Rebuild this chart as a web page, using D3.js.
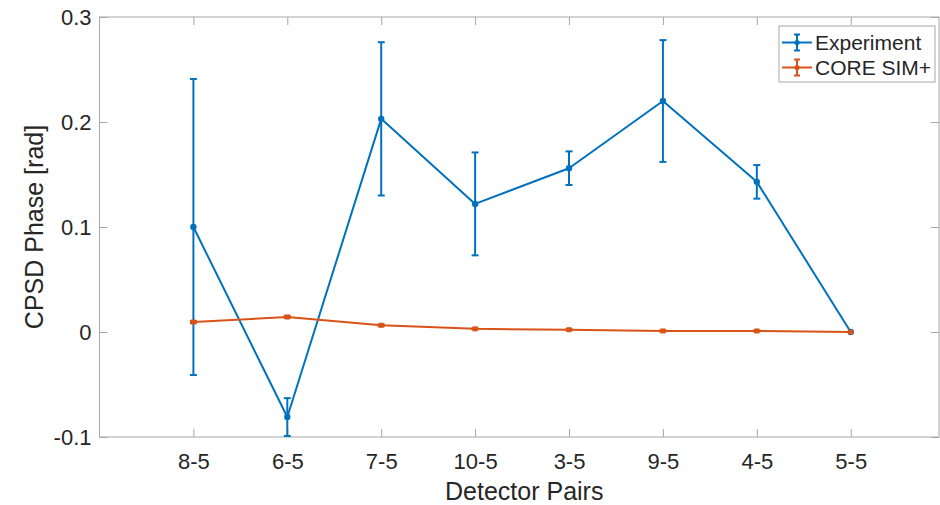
<!DOCTYPE html>
<html>
<head>
<meta charset="utf-8">
<script src="https://cdn.jsdelivr.net/npm/d3@7"></script>
<style>
  html, body { margin: 0; padding: 0; background: #fff; }
  svg { display: block; font-family: "Liberation Sans", Arial, Helvetica, sans-serif; }
</style>
</head>
<body>
<svg id="chart" width="940" height="505"></svg>
<script>
// Detector pairs along the x axis
const pairs = ["8-5", "6-5", "7-5", "10-5", "3-5", "9-5", "4-5", "5-5"];

// Measured CPSD phase and its uncertainty [rad]
const expPhase = [0.100, -0.081, 0.203, 0.122, 0.156, 0.220, 0.143, 0.000];
const expErr   = [0.141, 0.018, 0.073, 0.049, 0.016, 0.058, 0.016, 0.000];

// Simulated CPSD phase and its uncertainty [rad]
const simPhase = [0.0095, 0.0143, 0.0064, 0.0030, 0.0022, 0.0010, 0.0010, 0.0000];
const simErr   = [0.0010, 0.0010, 0.0008, 0.0006, 0.0006, 0.0006, 0.0006, 0.0000];

const yTicks = [-0.1, 0, 0.1, 0.2, 0.3];
const yTickLabels = ["-0.1", "0", "0.1", "0.2", "0.3"];

const seriesNames = ["Experiment", "CORE SIM+"];
const seriesColors = ["#0072BD", "#D95319"];

const W = 940, H = 505;
const plot = { left: 99.5, right: 939, top: 17, bottom: 437 };

const svg = d3.select("#chart");

const x = d3.scaleLinear().domain([0, 8.94]).range([plot.left, plot.right]);
const y = d3.scaleLinear().domain([-0.1, 0.3]).range([plot.bottom, plot.top]);
const xPos = i => x(i + 1);

const axisColor = "#a8a8a8";
const textColor = "#262626";
const tickFont = 22;
const labelFont = 25;

// Axes box
svg.append("rect")
  .attr("x", plot.left).attr("y", plot.top)
  .attr("width", plot.right - plot.left).attr("height", plot.bottom - plot.top)
  .attr("fill", "none").attr("stroke", axisColor).attr("stroke-width", 1);

// Bottom axis with inward ticks, mirrored on the top edge
const xAxis = d3.axisBottom(x)
  .tickValues(pairs.map((d, i) => i + 1))
  .tickFormat((d) => pairs[d - 1])
  .tickSizeInner(-8).tickSizeOuter(0).tickPadding(16);
const gx = svg.append("g").attr("transform", `translate(0,${plot.bottom})`).call(xAxis);
gx.select(".domain").remove();
gx.selectAll("line").attr("stroke", axisColor);
gx.selectAll("text").attr("fill", textColor).attr("font-size", tickFont).attr("font-family", null);

const xTop = d3.axisTop(x).tickValues(pairs.map((d, i) => i + 1)).tickFormat("").tickSizeInner(-8).tickSizeOuter(0);
const gxt = svg.append("g").attr("transform", `translate(0,${plot.top})`).call(xTop);
gxt.select(".domain").remove();
gxt.selectAll("line").attr("stroke", axisColor);

// Left axis with inward ticks, mirrored on the right edge
const yAxis = d3.axisLeft(y)
  .tickValues(yTicks)
  .tickFormat((d, i) => yTickLabels[i])
  .tickSizeInner(-8).tickSizeOuter(0).tickPadding(8);
const gy = svg.append("g").attr("transform", `translate(${plot.left},0)`).call(yAxis);
gy.select(".domain").remove();
gy.selectAll("line").attr("stroke", axisColor);
gy.selectAll("text").attr("fill", textColor).attr("font-size", tickFont).attr("font-family", null);

const yRight = d3.axisRight(y).tickValues(yTicks).tickFormat("").tickSizeInner(-8).tickSizeOuter(0);
const gyr = svg.append("g").attr("transform", `translate(${plot.right},0)`).call(yRight);
gyr.select(".domain").remove();
gyr.selectAll("line").attr("stroke", axisColor);

// Axis titles
svg.append("text")
  .attr("x", (plot.left + plot.right) / 2 + 5).attr("y", 500)
  .attr("text-anchor", "middle").attr("font-size", labelFont).attr("fill", textColor)
  .text("Detector Pairs");

svg.append("text")
  .attr("transform", `translate(43,${(plot.top + plot.bottom) / 2}) rotate(-90)`)
  .attr("text-anchor", "middle").attr("font-size", labelFont).attr("fill", textColor)
  .text("CPSD Phase [rad]");

// Series with vertical error bars
function drawSeries(values, errors, color, markerType) {
  const g = svg.append("g");
  const capHalf = 3.5;
  const line = d3.line().x((d, i) => xPos(i)).y(d => y(d));

  g.append("path")
    .datum(values)
    .attr("d", line)
    .attr("fill", "none").attr("stroke", color).attr("stroke-width", 2)
    .attr("stroke-linejoin", "round");

  const eb = g.selectAll("g.eb").data(values.map((v, i) => ({ v, e: errors[i], i })))
    .join("g").attr("class", "eb");
  eb.filter(d => d.e > 0).append("line")
    .attr("x1", d => xPos(d.i)).attr("x2", d => xPos(d.i))
    .attr("y1", d => y(d.v - d.e)).attr("y2", d => y(d.v + d.e))
    .attr("stroke", color).attr("stroke-width", 2);
  eb.filter(d => d.e > 0).append("line")
    .attr("x1", d => xPos(d.i) - capHalf).attr("x2", d => xPos(d.i) + capHalf)
    .attr("y1", d => y(d.v + d.e)).attr("y2", d => y(d.v + d.e))
    .attr("stroke", color).attr("stroke-width", 2);
  eb.filter(d => d.e > 0).append("line")
    .attr("x1", d => xPos(d.i) - capHalf).attr("x2", d => xPos(d.i) + capHalf)
    .attr("y1", d => y(d.v - d.e)).attr("y2", d => y(d.v - d.e))
    .attr("stroke", color).attr("stroke-width", 2);

  if (markerType === "circle") {
    eb.append("circle")
      .attr("cx", d => xPos(d.i)).attr("cy", d => y(d.v)).attr("r", 3.2)
      .attr("fill", color);
  } else {
    eb.append("rect")
      .attr("x", d => xPos(d.i) - 2.5).attr("y", d => y(d.v) - 2.5)
      .attr("width", 5).attr("height", 5)
      .attr("fill", color);
  }
}

drawSeries(expPhase, expErr, seriesColors[0], "circle");
drawSeries(simPhase, simErr, seriesColors[1], "square");

// Legend
const leg = { x: 779, y: 26, w: 156, h: 56 };
const lg = svg.append("g");
lg.append("rect")
  .attr("x", leg.x).attr("y", leg.y).attr("width", leg.w).attr("height", leg.h)
  .attr("fill", "#fff").attr("stroke", axisColor).attr("stroke-width", 1);

seriesNames.forEach((name, k) => {
  const cy = leg.y + 16.5 + k * 25;
  const c = seriesColors[k];
  const x0 = leg.x + 3, x1 = leg.x + 33, xm = (x0 + x1) / 2;
  lg.append("line").attr("x1", x0).attr("x2", x1).attr("y1", cy).attr("y2", cy)
    .attr("stroke", c).attr("stroke-width", 2);
  lg.append("line").attr("x1", xm).attr("x2", xm).attr("y1", cy - 8).attr("y2", cy + 8)
    .attr("stroke", c).attr("stroke-width", 2);
  lg.append("line").attr("x1", xm - 3).attr("x2", xm + 3).attr("y1", cy - 8).attr("y2", cy - 8)
    .attr("stroke", c).attr("stroke-width", 2);
  lg.append("line").attr("x1", xm - 3).attr("x2", xm + 3).attr("y1", cy + 8).attr("y2", cy + 8)
    .attr("stroke", c).attr("stroke-width", 2);
  lg.append("circle").attr("cx", xm).attr("cy", cy).attr("r", 2.6).attr("fill", c);
  lg.append("text").attr("x", leg.x + 36).attr("y", cy + 7.5)
    .attr("font-size", 21).attr("fill", textColor).text(name);
});
</script>
</body>
</html>
